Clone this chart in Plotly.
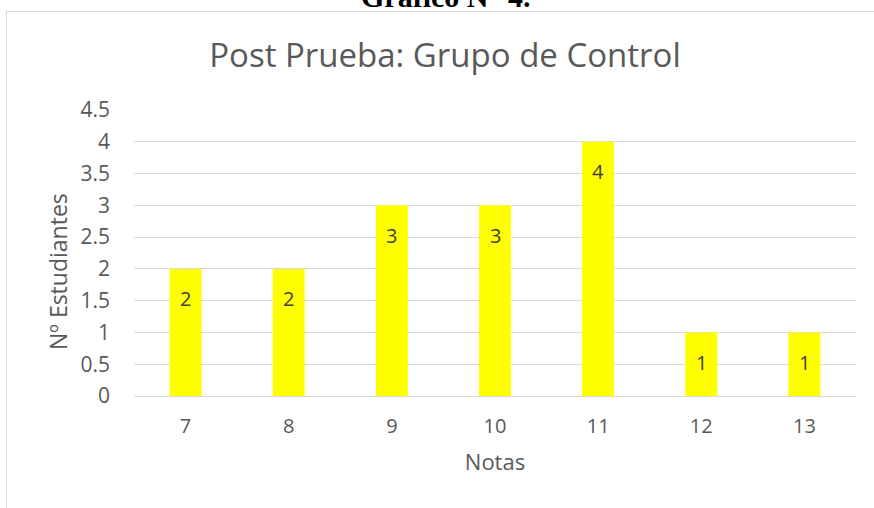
import plotly.graph_objects as go

notas = ["7", "8", "9", "10", "11", "12", "13"]
estudiantes = [2, 2, 3, 3, 4, 1, 1]
y_ticks = [0, 0.5, 1, 1.5, 2, 2.5, 3, 3.5, 4, 4.5]
y_tick_labels = ["0", "0.5", "1", "1.5", "2", "2.5", "3", "3.5", "4", "4.5"]

FONT = "Open Sans"
GRAY = "#595959"

W, H = 874, 508
L, R, T, B = 134, 18, 110, 112
PW = W - L - R
PH = H - T - B


def px_x(p):
    return (p - L) / PW


def px_y(p):
    return (T + PH - p) / PH


fig = go.Figure(go.Bar(
    x=notas, y=estudiantes,
    marker=dict(color="#FFFF00", line=dict(width=0)),
    width=0.31,
    hoverinfo="x+y",
))

# data labels, inside end of each bar (x given as category index)
for i, v in enumerate(estudiantes):
    fig.add_annotation(x=i, y=v, xref="x", yref="y", text=str(v), showarrow=False,
                       yshift=-30, xanchor="center", yanchor="middle",
                       font=dict(family=FONT, size=20, color="#404040"))

fig.update_layout(
    width=W, height=H,
    margin=dict(l=L, r=R, t=T, b=B, autoexpand=False),
    paper_bgcolor="white", plot_bgcolor="white",
    showlegend=False,
    font=dict(family=FONT, color=GRAY),
    title=dict(text="Post Prueba: Grupo de Control", x=px_x(445), xref="paper", xanchor="center",
               y=1 - 55 / H, yanchor="middle",
               font=dict(family=FONT, size=33, color=GRAY)),
    xaxis=dict(type="category", range=[-0.5, len(notas) - 0.5], showgrid=False, showline=True,
               linecolor="#d9d9d9", linewidth=1,
               ticks="", ticklabelstandoff=12, tickfont=dict(family=FONT, size=20, color=GRAY),
               title=dict(text="Notas", font=dict(family=FONT, size=22, color=GRAY), standoff=16)),
    yaxis=dict(range=[0, 4.5], tickvals=y_ticks, ticktext=y_tick_labels, showgrid=True,
               gridcolor="#d9d9d9", gridwidth=1, zeroline=False, showline=False, ticks="",
               ticklabelstandoff=23,
               tickfont=dict(family=FONT, size=21, color=GRAY)),
)

# y-axis title (offset downward like the original)
fig.add_annotation(text="Nº Estudiantes", xref="paper", yref="paper", x=px_x(58), y=px_y(272),
                   textangle=-90, showarrow=False, xanchor="center", yanchor="middle",
                   font=dict(family=FONT, size=23, color=GRAY))

# Chart border (partially visible)
fig.add_shape(type="rect", xref="paper", yref="paper",
              x0=px_x(6.5), x1=px_x(W + 20),
              y0=px_y(H + 20), y1=px_y(11.5),
              line=dict(color="#d9d9d9", width=1), layer="below")

# Cut-off heading above the chart
fig.add_annotation(text="<b>Gráfico N° 4.</b>", xref="paper", yref="paper",
                   x=px_x(445), y=px_y(15), xanchor="center", yanchor="bottom",
                   showarrow=False, font=dict(family="Liberation Serif", size=30, color="black"))

fig.write_html("out.html", config={"displayModeBar": False},
               post_script="document.body.style.margin='0';")
